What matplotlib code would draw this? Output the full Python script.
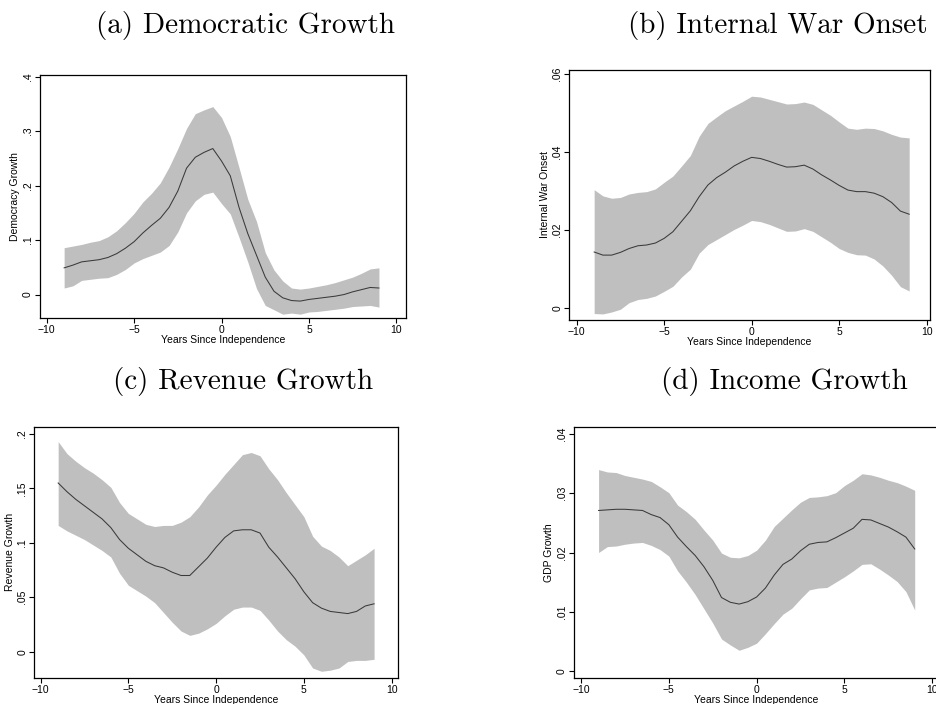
import matplotlib
matplotlib.use("Agg")
import matplotlib.pyplot as plt
from matplotlib.ticker import FixedLocator, FixedFormatter

# years since independence (common grid for all four panels)
years = [-9, -8.5, -8, -7.5, -7, -6.5, -6, -5.5, -5, -4.5, -4, -3.5, -3, -2.5, -2, -1.5, -1, -0.5,
         0, 0.5, 1, 1.5, 2, 2.5, 3, 3.5, 4, 4.5, 5, 5.5, 6, 6.5, 7, 7.5, 8, 8.5, 9]

# (a) Democratic growth
dem_mean = [0.049, 0.054, 0.060, 0.062, 0.064, 0.068, 0.075, 0.085, 0.097, 0.113, 0.127, 0.140, 0.160,
            0.190, 0.232, 0.252, 0.261, 0.268, 0.245, 0.218, 0.160, 0.112, 0.072, 0.032, 0.006, -0.006,
            -0.011, -0.012, -0.009, -0.007, -0.005, -0.003, 0.000, 0.005, 0.009, 0.013, 0.012]
dem_hi = [0.086, 0.089, 0.092, 0.096, 0.099, 0.106, 0.117, 0.132, 0.149, 0.170, 0.186, 0.205, 0.234,
          0.268, 0.305, 0.332, 0.339, 0.345, 0.325, 0.290, 0.233, 0.175, 0.134, 0.077, 0.045, 0.025,
          0.012, 0.010, 0.012, 0.015, 0.018, 0.022, 0.027, 0.032, 0.039, 0.047, 0.049]
dem_lo = [0.012, 0.016, 0.026, 0.028, 0.030, 0.031, 0.037, 0.046, 0.058, 0.066, 0.072, 0.078, 0.090,
          0.115, 0.150, 0.172, 0.184, 0.188, 0.167, 0.148, 0.105, 0.060, 0.011, -0.020, -0.028, -0.036,
          -0.034, -0.036, -0.032, -0.031, -0.029, -0.027, -0.025, -0.022, -0.021, -0.020, -0.023]

# (b) Internal war onset
war_mean = [0.0143, 0.0135, 0.0135, 0.0142, 0.0152, 0.0159, 0.0161, 0.0166, 0.0178, 0.0195, 0.0222,
            0.0249, 0.0285, 0.0315, 0.0334, 0.0348, 0.0364, 0.0376, 0.0386, 0.0383, 0.0376, 0.0368,
            0.0361, 0.0362, 0.0366, 0.0356, 0.0341, 0.0328, 0.0314, 0.0302, 0.0298, 0.0298, 0.0294,
            0.0285, 0.0270, 0.0248, 0.0240]
war_hi = [0.0303, 0.0287, 0.0281, 0.0283, 0.0292, 0.0296, 0.0298, 0.0305, 0.0322, 0.0338, 0.0364,
          0.0391, 0.0440, 0.0473, 0.0490, 0.0506, 0.0518, 0.0530, 0.0543, 0.0541, 0.0535, 0.0529,
          0.0523, 0.0524, 0.0528, 0.0522, 0.0508, 0.0494, 0.0477, 0.0461, 0.0458, 0.0461, 0.0460,
          0.0454, 0.0445, 0.0438, 0.0436]
war_lo = [-0.0015, -0.0016, -0.0011, -0.0004, 0.0013, 0.0021, 0.0024, 0.0030, 0.0042, 0.0055, 0.0079,
          0.0099, 0.0140, 0.0162, 0.0175, 0.0188, 0.0201, 0.0212, 0.0224, 0.0221, 0.0214, 0.0205,
          0.0196, 0.0197, 0.0203, 0.0196, 0.0182, 0.0168, 0.0152, 0.0142, 0.0136, 0.0135, 0.0125,
          0.0107, 0.0083, 0.0054, 0.0043]

# (c) Revenue growth
rev_mean = [0.155, 0.147, 0.140, 0.134, 0.128, 0.122, 0.114, 0.103, 0.095, 0.089, 0.083, 0.079, 0.077,
            0.073, 0.070, 0.070, 0.078, 0.086, 0.096, 0.105, 0.111, 0.112, 0.112, 0.109, 0.096, 0.087,
            0.077, 0.067, 0.055, 0.045, 0.040, 0.037, 0.036, 0.035, 0.037, 0.042, 0.044]
rev_hi = [0.193, 0.182, 0.175, 0.169, 0.164, 0.158, 0.151, 0.137, 0.127, 0.122, 0.117, 0.115, 0.116,
          0.116, 0.119, 0.124, 0.133, 0.144, 0.153, 0.163, 0.172, 0.181, 0.183, 0.180, 0.168, 0.158,
          0.146, 0.135, 0.124, 0.106, 0.097, 0.093, 0.087, 0.079, 0.084, 0.089, 0.095]
rev_lo = [0.116, 0.111, 0.107, 0.103, 0.098, 0.093, 0.087, 0.072, 0.061, 0.056, 0.051, 0.045, 0.036,
          0.027, 0.019, 0.015, 0.017, 0.021, 0.026, 0.033, 0.039, 0.041, 0.041, 0.038, 0.029, 0.019,
          0.011, 0.005, -0.003, -0.015, -0.018, -0.017, -0.015, -0.009, -0.008, -0.008, -0.007]

# (d) Income (GDP) growth
gdp_mean = [0.0271, 0.0272, 0.0273, 0.0273, 0.0272, 0.0271, 0.0264, 0.0259, 0.0247, 0.0226, 0.0210,
            0.0195, 0.0176, 0.0153, 0.0124, 0.0116, 0.0113, 0.0117, 0.0125, 0.0140, 0.0162, 0.0180,
            0.0189, 0.0203, 0.0214, 0.0217, 0.0218, 0.0225, 0.0233, 0.0241, 0.0256, 0.0255, 0.0249,
            0.0243, 0.0235, 0.0226, 0.0206]
gdp_hi = [0.0340, 0.0336, 0.0335, 0.0330, 0.0327, 0.0324, 0.0320, 0.0311, 0.0301, 0.0280, 0.0269,
          0.0256, 0.0238, 0.0221, 0.0199, 0.0192, 0.0191, 0.0195, 0.0204, 0.0221, 0.0244, 0.0258,
          0.0272, 0.0285, 0.0293, 0.0294, 0.0296, 0.0301, 0.0313, 0.0322, 0.0333, 0.0331, 0.0327,
          0.0322, 0.0318, 0.0312, 0.0305]
gdp_lo = [0.0200, 0.0210, 0.0211, 0.0214, 0.0216, 0.0217, 0.0212, 0.0205, 0.0194, 0.0169, 0.0150,
          0.0129, 0.0105, 0.0081, 0.0054, 0.0044, 0.0035, 0.0040, 0.0047, 0.0063, 0.0080, 0.0096,
          0.0106, 0.0122, 0.0137, 0.0140, 0.0141, 0.0150, 0.0159, 0.0169, 0.0180, 0.0181, 0.0172,
          0.0162, 0.0151, 0.0134, 0.0103]

x_ticks = [-10, -5, 0, 5, 10]
x_ticklabels = ["\u221210", "\u22125", "0", "5", "10"]

dem_yticks = [0, 0.1, 0.2, 0.3, 0.4]
dem_yticklabels = ["0", ".1", ".2", ".3", ".4"]
war_yticks = [0, 0.02, 0.04, 0.06]
war_yticklabels = ["0", ".02", ".04", ".06"]
rev_yticks = [0, 0.05, 0.1, 0.15, 0.2]
rev_yticklabels = ["0", ".05", ".1", ".15", ".2"]
gdp_yticks = [0, 0.01, 0.02, 0.03, 0.04]
gdp_yticklabels = ["0", ".01", ".02", ".03", ".04"]

W, H = 936, 704
plt.rcParams['font.family'] = ['Liberation Sans', 'DejaVu Sans']
fig = plt.figure(figsize=(W / 100, H / 100), dpi=100)


def px_axes(left, top, right, bottom):
    return fig.add_axes([left / W, 1 - bottom / H, (right - left) / W, (bottom - top) / H])


panels = [
    # frame in pixels, xlim, ylim, data, ticks, ylabel, title, title centre
    ((40, 75, 405.7, 318.3), (-10.38, 10.53), (-0.0436, 0.403),
     dem_mean, dem_lo, dem_hi, dem_yticks, dem_yticklabels, "Democracy Growth",
     "(a) Democratic Growth", (246, 33)),
    ((569.3, 70, 930, 320), (-10.42, 10.19), (-0.00316, 0.06103),
     war_mean, war_lo, war_hi, war_yticks, war_yticklabels, "Internal War Onset",
     "(b) Internal War Onset", (778, 33)),
    ((34.3, 426.7, 398.3, 677.7), (-10.36, 10.38), (-0.0239, 0.2067),
     rev_mean, rev_lo, rev_hi, rev_yticks, rev_yticklabels, "Revenue Growth",
     "(c) Revenue Growth", (243, 389)),
    ((574, 426.7, 939.3, 677.7), (-10.4, 10.4), (-0.00113, 0.04124),
     gdp_mean, gdp_lo, gdp_hi, gdp_yticks, gdp_yticklabels, "GDP Growth",
     "(d) Income Growth", (784, 389)),
]

for frame, xlim, ylim, mean, lo, hi, yt, ytl, ylab, title, tpos in panels:
    ax = px_axes(*frame)
    ax.fill_between(years, lo, hi, color='#bfbfbf', linewidth=0)
    ax.plot(years, mean, color='#3a3a3a', linewidth=0.75)
    ax.set_xlim(*xlim)
    ax.set_ylim(*ylim)
    ax.xaxis.set_major_locator(FixedLocator(x_ticks))
    ax.xaxis.set_major_formatter(FixedFormatter(x_ticklabels))
    ax.yaxis.set_major_locator(FixedLocator(yt))
    ax.yaxis.set_major_formatter(FixedFormatter(ytl))
    ax.tick_params(direction='out', length=3.5, width=0.8, labelsize=7.5, pad=1.5)
    for lab in ax.get_yticklabels():
        lab.set_rotation(90)
        lab.set_va('center')
    for sp in ax.spines.values():
        sp.set_linewidth(0.9)
    ax.set_xlabel("Years Since Independence", fontsize=7.5, labelpad=0)
    ax.set_ylabel(ylab, fontsize=7.5, labelpad=2)
    fig.text(tpos[0] / W, 1 - tpos[1] / H, title, family='cmr10', fontsize=21,
             ha='center', va='baseline')

fig.savefig("out.png", dpi=100)
